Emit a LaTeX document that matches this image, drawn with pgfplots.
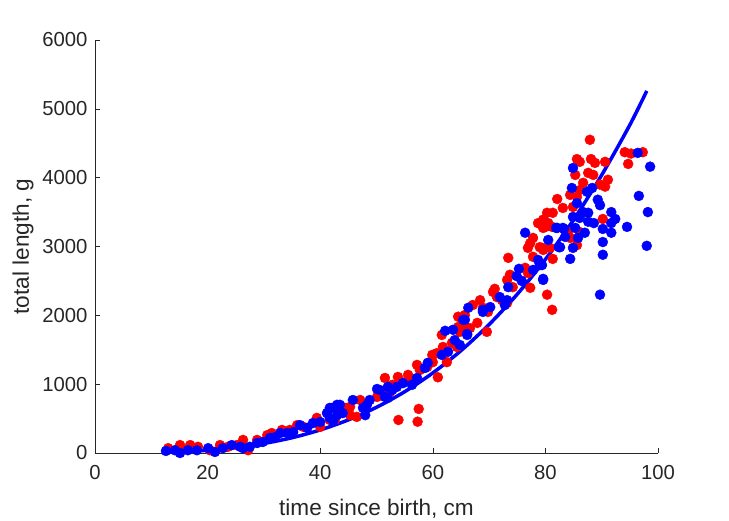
\documentclass[border=0pt]{standalone}
\usepackage{pgfplots}
\pgfplotsset{compat=1.18}
\usepackage{fontspec}
\setmainfont{Liberation Sans}
\definecolor{axgray}{HTML}{262626}

\begin{document}
\begin{tikzpicture}
\useasboundingbox (-95bp,-68bp) rectangle (634bp,453bp);
\begin{axis}[
    scale only axis,
    width=563bp, height=413bp,
    at={(0,0)}, anchor=south west,
    xmin=0, xmax=100,
    ymin=0, ymax=6000,
    xtick={0,20,40,60,80,100},
    ytick={0,1000,2000,3000,4000,5000,6000},
    axis lines=left,
    axis line style={-, axgray, line width=0.6bp},
    tick style={axgray, line width=0.6bp},
    tick align=inside,
    major tick length=5bp,
    /pgf/number format/assume math mode=true,
    /pgf/number format/1000 sep={},
    tick label style={font=\fontsize{20.3bp}{24bp}\selectfont, text=axgray},
    x tick label style={yshift=-9bp},
    y tick label style={xshift=-4bp},
    xlabel={time since birth, cm},
    ylabel={total length, g},
    x label style={at={(axis description cs:0.5,-0.134)}, anchor=center,
        font=\fontsize{22.6bp}{26bp}\selectfont, text=axgray},
    y label style={at={(axis description cs:-0.128,0.5)}, anchor=center,
        font=\fontsize{22.6bp}{26bp}\selectfont, text=axgray},
    clip=false,
]
% females
\addplot[only marks, mark=*, mark size=5bp, red, mark options={draw=none, fill=red}] coordinates {
(13.0,70)(15.1,115)(16.9,115)(18.3,90)(20.4,40)(22.2,115)(23.6,90)(25.2,115)
(26.3,190)(27.2,40)(28.8,190)(30.6,260)(31.4,290)(33.2,335)(34.6,335)(35.9,405)
(37.0,380)(39.4,510)(40.0,380)(41.7,480)(42.3,480)(42.6,480)(43.2,580)(44.4,655)
(45.3,670)(45.3,550)(46.5,525)(47.1,770)(50.1,815)(51.2,870)(51.5,1090)(52.4,885)
(52.8,990)(53.3,960)(53.8,1105)(53.9,480)(54.5,1030)(55.6,1135)(56.0,1060)(57.2,1280)
(57.3,455)(57.5,640)(57.7,1205)(59.0,1250)(59.9,1425)(60.0,1320)(60.7,1450)(60.9,1100)
(61.6,1715)(61.8,1540)(62.5,1320)(63.4,1600)(64.3,1540)(64.5,1980)(64.5,1830)(64.8,1760)
(65.7,2005)(65.7,1830)(66.6,1815)(67.1,2150)(67.9,1890)(68.4,2220)(68.9,2110)(69.6,1760)
(69.8,2050)(70.7,2340)(71.0,2385)(71.4,2265)(72.3,2220)(73.2,2180)(73.2,2515)(73.4,2835)
(73.7,2590)(74.2,2410)(76.4,2690)(76.9,2615)(76.9,2980)(77.3,2400)(77.3,3050)(77.8,3125)
(77.8,2850)(78.7,3340)(79.0,2990)(79.4,2980)(79.6,2950)(79.6,3270)(79.6,3390)(80.0,3285)
(80.3,3490)(80.3,2300)(80.5,3340)(80.8,2980)(81.2,2080)(81.2,3285)(81.3,3490)(81.3,2820)
(82.1,3690)(83.1,3560)(84.0,3210)(84.4,3750)(84.4,3125)(84.9,3575)(85.3,4040)(85.6,3720)
(85.6,3020)(85.6,4270)(86.1,4230)(86.1,3820)(86.1,3210)(86.7,3925)(87.6,4070)(87.9,4550)
(88.1,4270)(88.5,4040)(88.8,4215)(89.7,3900)(90.2,3400)(90.6,3870)(90.6,4230)(91.1,3970)
(94.1,4370)(94.7,4200)(95.2,4350)(97.3,4370)
};
% males
\addplot[only marks, mark=*, mark size=5bp, blue, mark options={draw=none, fill=blue}] coordinates {
(12.6,30)(14.2,40)(15.1,0)(16.5,40)(18.1,40)(20.1,70)(21.3,15)(22.7,70)
(24.3,115)(25.8,90)(26.3,70)(27.5,90)(28.8,145)(29.8,160)(31.1,220)(32.0,230)
(32.9,290)(34.1,290)(35.2,305)(36.4,405)(37.7,365)(38.7,435)(40.0,450)(41.2,580)
(41.7,655)(41.7,510)(42.1,655)(42.3,465)(43.0,700)(43.0,550)(43.5,700)(44.0,580)
(45.8,770)(47.6,655)(48.0,550)(48.3,700)(48.8,770)(50.1,930)(50.6,915)(51.5,815)
(52.0,800)(52.0,960)(52.8,915)(53.6,960)(54.7,1015)(56.3,990)(57.2,1090)(58.6,1235)
(59.1,1310)(61.6,1425)(62.2,1775)(62.7,1470)(63.6,1790)(63.9,1640)(64.8,1570)(65.4,1935)
(65.7,1935)(66.1,1715)(66.1,1730)(66.3,2110)(68.9,2080)(68.9,2050)(70.2,2120)(71.9,2265)
(72.8,2150)(73.2,2220)(73.4,2410)(74.9,2570)(75.3,2675)(75.8,2500)(76.4,3200)(77.8,2660)
(78.7,2805)(79.0,2730)(79.4,2730)(79.6,2515)(79.6,2530)(80.5,3095)(81.9,3270)(82.1,3270)
(82.4,2990)(82.6,2990)(83.1,3270)(83.3,3255)(83.5,3140)(84.4,2820)(84.7,3850)(84.9,4140)
(84.9,3430)(84.9,2980)(85.3,3270)(85.6,3630)(85.8,3125)(86.1,3415)(86.7,3500)(87.0,3200)
(87.4,3795)(87.6,3490)(87.6,3360)(88.3,3850)(88.6,3340)(89.3,3680)(89.7,3600)(89.7,2300)
(90.2,3255)(90.2,3065)(90.2,2880)(91.7,3500)(91.7,3340)(91.7,3200)(92.4,3400)(94.5,3285)
(96.4,4360)(96.6,3735)(98.0,3010)(98.2,3500)(98.6,4160)
};
% fitted curve
\addplot[blue, line width=3.5bp, smooth] coordinates {
(13,10.6)(16,20.1)(20,39.9)(25,79.1)(30,138.5)(35,222)(40,335)(45,481)(50,664)
(55,890)(60,1163)(65,1487)(70,1867)(75,2307)(80,2813)(85,3388)(90,4038)(95,4767)(98,5260)
};
\end{axis}
\end{tikzpicture}
\end{document}
